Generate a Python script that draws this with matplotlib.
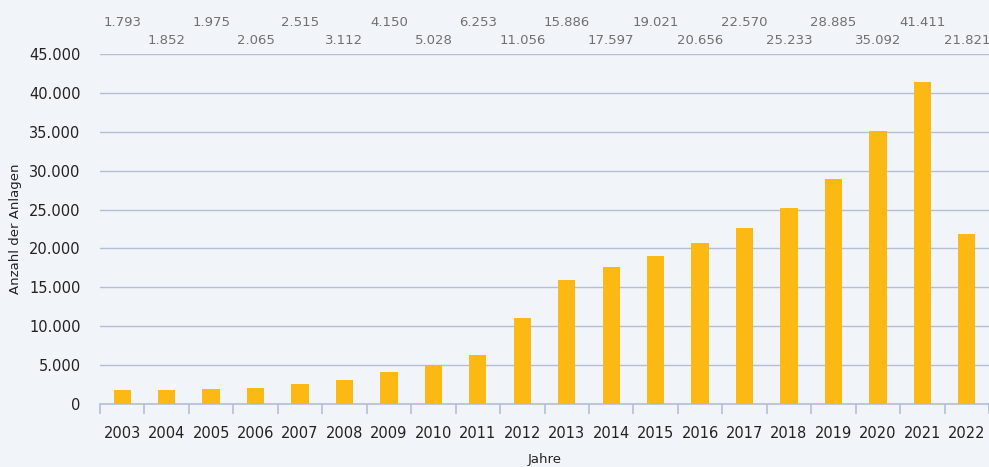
import matplotlib
matplotlib.use("Agg")
import matplotlib.pyplot as plt
import matplotlib.transforms as mtransforms
import numpy as np

years = [str(y) for y in range(2003, 2023)]
values = [1793, 1852, 1975, 2065, 2515, 3112, 4150, 5028, 6253, 11056,
          15886, 17597, 19021, 20656, 22570, 25233, 28885, 35092, 41411, 21821]
yticks = [0, 5000, 10000, 15000, 20000, 25000, 30000, 35000, 40000, 45000]

def fmt(v):
    return f"{v:,}".replace(",", ".")

bg = "#f1f4f9"
fig = plt.figure(figsize=(9.89, 4.67), dpi=100, facecolor=bg)
ax = fig.add_axes([100/989, 1-404/467, 889/989, 350/467], facecolor=bg)

x = np.arange(len(years))
ax.bar(x, values, width=0.39, color="#fdb913", zorder=3)
ax.set_xlim(-0.5, len(years)-0.5)
ax.set_ylim(0, 45000)
ax.set_yticks(yticks)
ax.set_yticklabels([fmt(v) for v in yticks], fontsize=10.5, color="#222222")
ax.yaxis.grid(True, color="#b4bfd6", linewidth=1.0, zorder=0)
ax.tick_params(axis="y", length=0, pad=14)
ax.set_xticks(x)
ax.set_xticklabels(years, fontsize=10.5, color="#222222")
ax.tick_params(axis="x", which="major", length=0, pad=16)
ax.set_xticks(np.arange(-0.5, len(years), 1.0), minor=True)
ax.tick_params(axis="x", which="minor", length=7, color="#b4bfd6", width=1.2, direction="out")
for s in ["top", "right", "left"]:
    ax.spines[s].set_visible(False)
ax.spines["bottom"].set_color("#b4bfd6")
ax.spines["bottom"].set_linewidth(1.2)

fig.text(16/989, 1 - 229/467, "Anzahl der Anlagen", rotation=90, ha="center", va="center",
         fontsize=9.5, color="#222222")
fig.text(545/989, 1 - 460/467, "Jahre", ha="center", va="center",
         fontsize=9.5, color="#222222")

trans = mtransforms.blended_transform_factory(ax.transData, fig.transFigure)
for i, v in enumerate(values):
    ypix = 22 if i % 2 == 0 else 40
    ax.text(i, 1 - ypix/467, fmt(v), transform=trans, ha="center", va="center",
            fontsize=9.5, color="#707070", clip_on=False)

fig.savefig("out.png", dpi=100, facecolor=bg)
